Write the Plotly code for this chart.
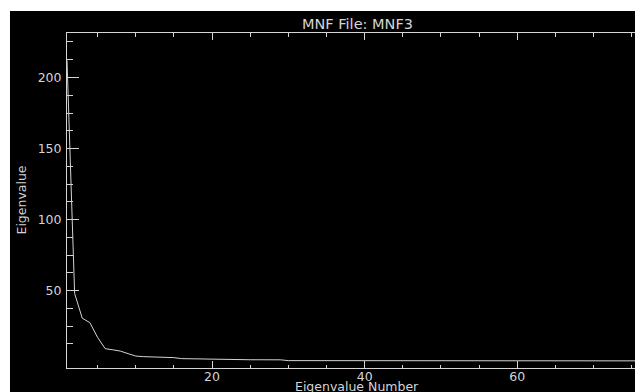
import plotly.graph_objects as go

# ---- data ----
eig_num = list(range(1, 78))
eig_val = [212, 48, 30.6, 27.5, 17.2, 9.2, 8.4, 7.5, 5.7, 4.0,
           3.6, 3.5, 3.1, 3.0, 2.9, 2.2, 2.1, 1.6, 1.5, 1.5,
           1.5, 1.45, 1.45, 1.4, 1.4, 1.4, 1.4, 1.35, 1.35, 0.8,
           0.78, 0.77, 0.76, 0.76, 0.75, 0.75, 0.74, 0.74, 0.73, 0.73,
           0.73, 0.72, 0.72, 0.72, 0.71, 0.71, 0.71, 0.7, 0.7, 0.7,
           0.7, 0.69, 0.69, 0.69, 0.69, 0.68, 0.68, 0.68, 0.68, 0.67,
           0.67, 0.67, 0.67, 0.66, 0.66, 0.66, 0.66, 0.65, 0.65, 0.65,
           0.65, 0.64, 0.64, 0.64, 0.63, 0.63, 0.62]

x_major = [20, 40, 60]
x_minor = [5, 10, 15, 25, 30, 35, 45, 50, 55, 65, 70, 75]
y_major = [50, 100, 150, 200]
y_minor = [12.5, 25, 37.5, 62.5, 75, 87.5, 112.5, 125, 137.5, 162.5, 175, 187.5, 212.5, 225]

title_text = "MNF File: MNF3"
x_title = "Eigenvalue Number"
y_title = "Eigenvalue"

C = "#d4d4d4"
FONT = "DejaVu Sans"

fig = go.Figure()
fig.add_trace(go.Scatter(x=eig_num, y=eig_val, mode="lines",
                         line=dict(color=C, width=1), hoverinfo="skip", showlegend=False))

yr = [-4.4, 231.3]
fig.update_layout(
    width=643, height=392,
    margin=dict(l=59, r=4, t=25, b=32, pad=0),
    paper_bgcolor="black", plot_bgcolor="black",
    showlegend=False,
    font=dict(family=FONT, color=C, size=12.5),
    xaxis=dict(range=[1, 77], showline=True, linecolor=C, linewidth=1, mirror="ticks",
               ticks="inside", ticklen=7, tickwidth=1, tickcolor=C,
               tickmode="array", tickvals=x_major, ticktext=[str(v) for v in x_major],
               minor=dict(tickmode="array", tickvals=x_minor, ticks="inside", ticklen=3.5,
                          tickcolor=C, tickwidth=1, showgrid=False),
               showgrid=False, zeroline=False, ticklabelstandoff=-3,
               tickfont=dict(family=FONT, size=12.5, color=C)),
    yaxis=dict(range=yr, showline=True, linecolor=C, linewidth=1, mirror="ticks",
               ticks="inside", ticklen=12, tickwidth=1, tickcolor=C,
               tickmode="array", tickvals=y_major, ticktext=[str(v) for v in y_major],
               minor=dict(tickmode="array", tickvals=y_minor, ticks="inside", ticklen=6,
                          tickcolor=C, tickwidth=1, showgrid=False),
               showgrid=False, zeroline=False, ticklabelstandoff=2,
               tickfont=dict(family=FONT, size=12.5, color=C)),
    shapes=[
        dict(type="rect", xref="paper", yref="paper", x0=-0.12, x1=1.02, y0=1.0657, y1=1.12,
             fillcolor="white", line=dict(width=0), layer="above"),
        dict(type="rect", xref="paper", yref="paper", x0=-0.12, x1=-0.0983, y0=-0.12, y1=1.12,
             fillcolor="white", line=dict(width=0), layer="above"),
    ],
    annotations=[
        dict(text=title_text, xref="paper", yref="paper", x=0.5, y=1.0269,
             xanchor="center", yanchor="middle", showarrow=False,
             font=dict(family=FONT, size=14.5, color=C)),
        dict(text=x_title, xref="paper", yref="paper", x=0.5, y=-0.0567,
             xanchor="center", yanchor="middle", showarrow=False,
             font=dict(family=FONT, size=12.5, color=C)),
        dict(text=y_title, xref="paper", yref="paper", x=-0.0793, y=0.5,
             xanchor="center", yanchor="middle", showarrow=False, textangle=-90,
             font=dict(family=FONT, size=12.5, color=C)),
    ],
)

fig.write_html("out.html")
